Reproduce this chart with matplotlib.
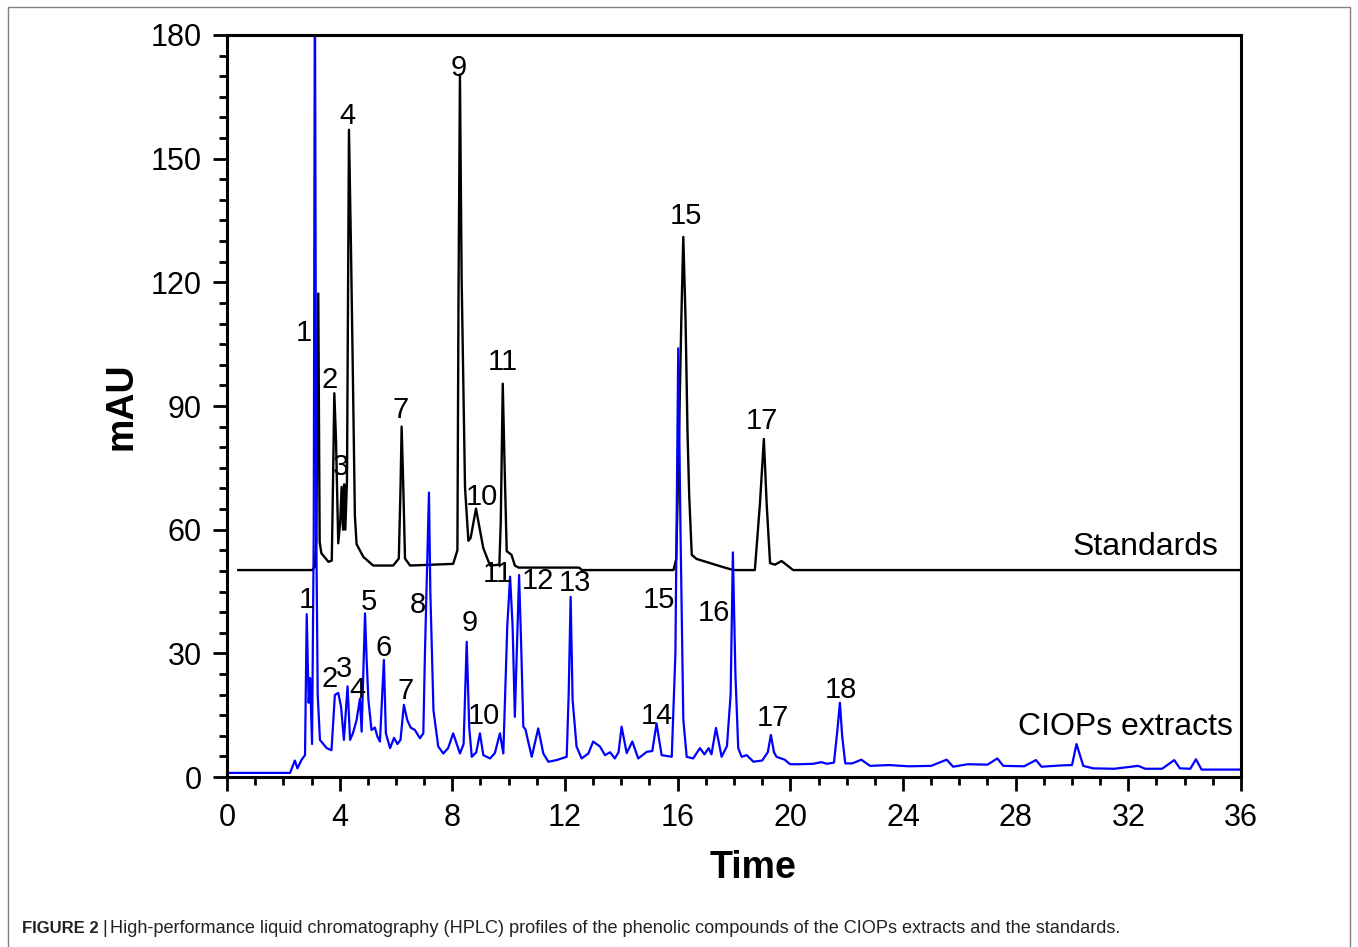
import matplotlib
matplotlib.use("Agg")
import matplotlib.pyplot as plt
from matplotlib.ticker import MultipleLocator
from matplotlib.patches import Rectangle

plt.rcParams['font.family'] = ['Liberation Sans', 'DejaVu Sans']

# CIOPs extracts trace (time, mAU)
ext_time = [0.0, 2.24, 2.41, 2.5, 2.65, 2.77, 2.83, 2.9, 2.95, 3.02,
            3.08, 3.12, 3.17, 3.22, 3.3, 3.54, 3.71, 3.83, 3.95, 4.05,
            4.15, 4.28, 4.37, 4.47, 4.6, 4.72, 4.78, 4.9, 4.96, 5.02,
            5.13, 5.25, 5.34, 5.43, 5.57, 5.64, 5.79, 5.93, 6.05, 6.16,
            6.28, 6.4, 6.52, 6.67, 6.85, 6.97, 7.03, 7.17, 7.22, 7.33,
            7.5, 7.68, 7.85, 8.03, 8.27, 8.4, 8.51, 8.6, 8.69, 8.85,
            8.98, 9.1, 9.34, 9.51, 9.69, 9.81, 9.95, 10.05, 10.14, 10.22,
            10.3, 10.37, 10.44, 10.52, 10.6, 10.68, 10.82, 11.05, 11.23, 11.41,
            11.7, 12.06, 12.13, 12.2, 12.27, 12.41, 12.59, 12.83, 13.0, 13.24,
            13.42, 13.6, 13.77, 13.9, 14.01, 14.19, 14.39, 14.6, 14.9, 15.1,
            15.25, 15.43, 15.79, 15.92, 16.02, 16.1, 16.2, 16.32, 16.55, 16.79,
            16.95, 17.1, 17.2, 17.36, 17.56, 17.75, 17.88, 17.96, 18.05, 18.15,
            18.27, 18.45, 18.69, 19.0, 19.2, 19.31, 19.42, 19.51, 19.8, 19.99,
            20.34, 20.8, 21.1, 21.3, 21.55, 21.68, 21.76, 21.84, 21.95, 22.2,
            22.52, 22.83, 23.5, 24.2, 25.0, 25.55, 25.78, 26.3, 27.0, 27.35,
            27.56, 28.3, 28.72, 28.92, 29.6, 30.0, 30.16, 30.4, 30.75, 31.5,
            32.35, 32.6, 33.2, 33.63, 33.83, 34.2, 34.4, 34.6, 36.0]
ext_mau = [1.0, 1.0, 4.0, 2.1, 4.2, 5.3, 39.5, 18.0, 24.0, 8.0,
           60.0, 200.0, 60.0, 20.0, 9.0, 7.0, 6.5, 19.9, 20.4, 17.0,
           9.0, 22.0, 9.0, 10.6, 13.8, 19.0, 11.0, 39.7, 28.0, 18.7,
           11.4, 12.0, 9.8, 8.6, 28.4, 10.6, 7.0, 9.5, 8.0, 9.0,
           17.5, 13.8, 12.0, 11.4, 9.4, 10.6, 30.8, 69.0, 44.6, 16.2,
           7.4, 5.7, 7.0, 10.6, 5.7, 8.0, 32.8, 12.0, 4.9, 6.0,
           10.6, 5.3, 4.5, 5.8, 10.6, 5.7, 36.5, 48.6, 36.5, 14.6,
           33.0, 49.0, 33.0, 12.2, 11.5, 9.0, 4.9, 11.8, 5.7, 3.7,
           4.1, 4.9, 20.0, 43.7, 18.7, 7.4, 4.5, 5.7, 8.6, 7.4,
           5.3, 6.0, 4.5, 6.0, 12.2, 5.8, 8.6, 4.5, 6.1, 6.3,
           13.0, 5.3, 4.9, 30.0, 104.0, 60.0, 14.0, 4.9, 4.5, 7.0,
           5.5, 7.0, 5.5, 11.9, 4.9, 7.5, 20.0, 54.5, 25.0, 7.0,
           4.9, 5.3, 3.7, 4.0, 6.0, 10.2, 6.0, 4.9, 4.2, 3.1,
           3.1, 3.2, 3.6, 3.2, 3.5, 12.0, 18.0, 10.0, 3.3, 3.3,
           4.2, 2.7, 2.9, 2.6, 2.7, 4.2, 2.5, 3.1, 3.0, 4.5,
           2.7, 2.6, 4.1, 2.5, 2.8, 2.9, 8.0, 2.7, 2.1, 2.0,
           2.7, 2.0, 2.0, 4.1, 2.1, 2.0, 4.3, 1.8, 1.8]

# standards trace (offset baseline ~50 mAU)
std_time = [0.4, 3.02, 3.12, 3.17, 3.24, 3.29, 3.35, 3.6, 3.72, 3.77,
            3.81, 3.87, 3.95, 4.02, 4.07, 4.12, 4.16, 4.2, 4.26, 4.33,
            4.4, 4.47, 4.54, 4.6, 4.84, 5.19, 5.9, 6.1, 6.16, 6.2,
            6.26, 6.32, 6.5, 8.03, 8.18, 8.22, 8.27, 8.33, 8.45, 8.57,
            8.65, 8.84, 9.1, 9.34, 9.67, 9.72, 9.79, 9.85, 9.93, 10.1,
            10.22, 10.35, 12.5, 12.6, 15.85, 15.95, 16.05, 16.13, 16.2, 16.28,
            16.35, 16.41, 16.5, 16.67, 17.62, 17.98, 18.74, 18.92, 19.06, 19.16,
            19.28, 19.45, 19.69, 20.1, 36.0]
std_mau = [50.2, 50.2, 51.0, 57.5, 117.3, 57.0, 54.3, 52.2, 52.5, 74.5,
           93.1, 81.8, 56.7, 62.0, 70.4, 60.0, 71.0, 60.0, 72.0, 157.0,
           129.0, 97.0, 63.4, 56.5, 53.4, 51.3, 51.3, 53.0, 70.0, 85.0,
           70.0, 53.0, 51.3, 51.7, 55.0, 118.0, 170.4, 121.0, 70.3, 57.3,
           58.0, 65.1, 55.5, 51.3, 51.5, 62.0, 95.4, 77.0, 54.8, 53.9,
           51.3, 50.8, 50.8, 50.2, 50.2, 52.9, 83.5, 111.0, 131.0, 111.0,
           83.5, 68.2, 53.9, 52.9, 50.9, 50.2, 50.2, 66.2, 82.0, 66.2,
           51.9, 51.5, 52.4, 50.2, 50.2]

# peak labels: (text, time, mAU)
std_labels = ['1', '2', '3', '4', '7', '9', '10', '11', '15', '17']
std_label_t = [2.73, 3.66, 4.05, 4.26, 6.18, 8.24, 9.05, 9.8, 16.29, 18.99]
std_label_v = [107.7, 96.3, 75.2, 160.4, 89.0, 172.0, 67.9, 100.7, 136.0, 86.4]

ext_labels = ['1', '2', '3', '4', '5', '6', '7', '8', '9', '10',
              '11', '12', '13', '14', '15', '16', '17', '18']
ext_label_t = [2.84, 3.66, 4.17, 4.62, 5.04, 5.57, 6.35, 6.78, 8.63, 9.12,
               9.62, 11.04, 12.35, 15.26, 15.34, 17.29, 19.38, 21.8]
ext_label_v = [43.0, 23.8, 26.2, 21.0, 42.5, 31.3, 20.9, 41.7, 37.4, 14.8,
               49.2, 47.5, 47.0, 14.8, 43.0, 39.8, 14.3, 21.1]


fig = plt.figure(figsize=(13.58, 9.47), dpi=100)
ax = fig.add_axes([227 / 1358, 1 - 777 / 947, (1241 - 227) / 1358, (777 - 35) / 947])

ax.plot(std_time, std_mau, color='black', linewidth=1.7)
ax.plot(ext_time, ext_mau, color='#0000ff', linewidth=1.6)

for s, t, v in zip(std_labels, std_label_t, std_label_v):
    ax.text(t, v, s, fontsize=21, ha='center', va='center')
for s, t, v in zip(ext_labels, ext_label_t, ext_label_v):
    ax.text(t, v, s, fontsize=21, ha='center', va='center')

ax.text(35.2, 55.8, 'Standards', fontsize=23, ha='right', va='center')
ax.text(35.7, 12.1, 'CIOPs extracts', fontsize=23, ha='right', va='center')

ax.set_xlim(0, 36)
ax.set_ylim(0, 180)
ax.xaxis.set_major_locator(MultipleLocator(4))
ax.xaxis.set_minor_locator(MultipleLocator(1))
ax.yaxis.set_major_locator(MultipleLocator(30))
ax.yaxis.set_minor_locator(MultipleLocator(5))
ax.tick_params(which='major', direction='out', length=10, width=2, labelsize=22, pad=8)
ax.tick_params(which='minor', direction='out', length=6, width=2)
ax.tick_params(axis='x', which='major', pad=9)
for sp in ax.spines.values():
    sp.set_linewidth(2.2)

ax.set_xlabel('Time', fontsize=27, fontweight='bold', labelpad=12)
ax.xaxis.label.set_x((753 - 227) / 1014)
ax.set_ylabel('mAU', fontsize=27, fontweight='bold', labelpad=8)

# outer figure frame
fig.patches.append(Rectangle((8 / 1358, -0.01), (1350 - 8) / 1358, 1.01 - 7 / 947,
                             transform=fig.transFigure, fill=False,
                             edgecolor='#808080', linewidth=1.0))

# caption
cap_y = 1 - 928 / 947
fig.text(22 / 1358, cap_y, 'FIGURE 2', fontsize=12, fontweight='bold',
         va='center', color='#222222')
fig.text(102 / 1358, cap_y, '|', fontsize=13, va='center', color='#222222')
fig.text(110 / 1358, cap_y,
         'High-performance liquid chromatography (HPLC) profiles of the phenolic '
         'compounds of the CIOPs extracts and the standards.',
         fontsize=13.1, va='center', color='#222222')

fig.savefig('out.png', dpi=100)
